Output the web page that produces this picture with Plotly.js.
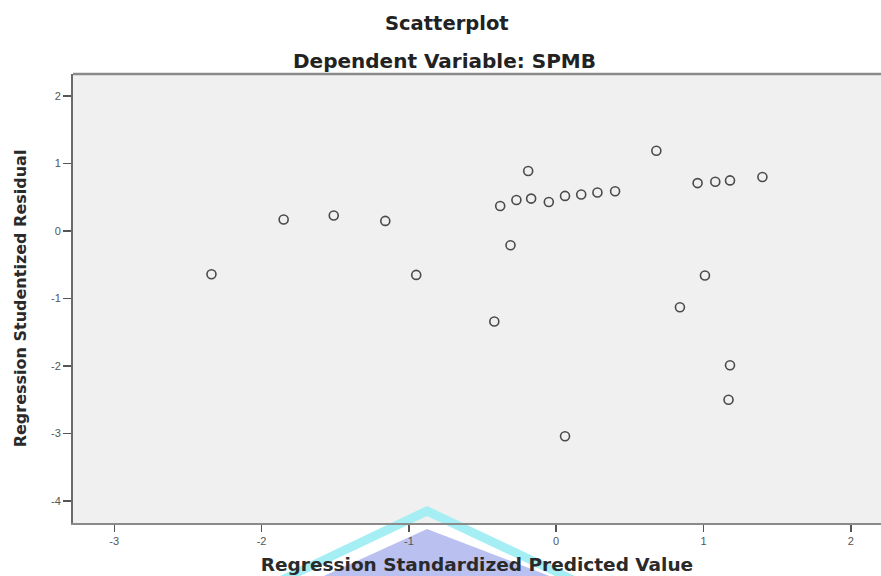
<!DOCTYPE html>
<html>
<head>
<meta charset="utf-8">
<script src="https://cdn.plot.ly/plotly-3.0.1.min.js"></script>
<style>html,body{margin:0;padding:0;background:#fff;}#chart{width:881px;height:576px;}</style>
</head>
<body>
<div id="chart"></div>
<script>
// Regression Standardized Predicted Value
var predicted = [-2.34, -1.85, -1.51, -1.16, -0.95, -0.42, -0.38, -0.31, -0.27, -0.19, -0.17, -0.05, 0.06, 0.06, 0.17, 0.28, 0.40, 0.68, 0.84, 0.96, 1.01, 1.08, 1.18, 1.18, 1.17, 1.40];
// Regression Studentized Residual
var residual  = [-0.64, 0.17, 0.23, 0.15, -0.65, -1.34, 0.37, -0.21, 0.46, 0.89, 0.48, 0.43, 0.52, -3.04, 0.54, 0.57, 0.59, 1.19, -1.13, 0.71, -0.66, 0.73, 0.75, -1.99, -2.50, 0.80];
var xTicks = [-3, -2, -1, 0, 1, 2];
var yTicks = [-4, -3, -2, -1, 0, 1, 2];

var trace = {
  x: predicted, y: residual, type: 'scatter', mode: 'markers',
  marker: {symbol: 'circle-open', size: 9, color: '#4a4a4a', line: {width: 1.6, color: '#4a4a4a'}},
  hoverinfo: 'x+y'
};

var layout = {
  width: 881, height: 576,
  margin: {l: 73, r: 0, t: 74, b: 53, pad: 0},
  paper_bgcolor: '#ffffff', plot_bgcolor: '#f0f0f0',
  showlegend: false,
  font: {family: 'DejaVu Sans, Arial, sans-serif', color: '#222'},
  xaxis: {
    range: [-3.28, 2.205], tickvals: xTicks, ticktext: xTicks.map(String),
    showgrid: false, zeroline: false,
    showline: true, linecolor: '#8a8a8a', linewidth: 2, mirror: false,
    ticks: 'outside', ticklen: 7, tickwidth: 1.5, tickcolor: '#555',
    tickfont: {family: 'Arial, Liberation Sans, sans-serif', size: 11, color: '#555555'},
    title: {text: 'Regression Standardized Predicted Value', standoff: 12,
            font: {family: 'DejaVu Sans, sans-serif', size: 18.5, color: '#2a2a2a', weight: 'bold'}}
  },
  yaxis: {
    range: [-4.326, 2.326], tickvals: yTicks, ticktext: yTicks.map(String),
    showgrid: false, zeroline: false,
    showline: true, linecolor: '#6a6a6a', linewidth: 2, mirror: false,
    ticks: 'outside', ticklen: 8, tickwidth: 1.5, tickcolor: '#555',
    tickfont: {family: 'Arial, Liberation Sans, sans-serif', size: 11, color: '#555555'},
    title: {text: 'Regression Studentized Residual', standoff: 20,
            font: {family: 'DejaVu Sans, sans-serif', size: 16, color: '#2a2a2a', weight: 'bold'}}
  },
  annotations: [
    {text: 'Scatterplot', xref: 'paper', yref: 'paper', x: 0.463, y: 1, yshift: 51, showarrow: false,
     xanchor: 'center', yanchor: 'middle', font: {family: 'DejaVu Sans, sans-serif', size: 19.5, color: '#222', weight: 'bold'}},
    {text: 'Dependent Variable: SPMB', xref: 'paper', yref: 'paper', x: 0.46, y: 1, yshift: 13, showarrow: false,
     xanchor: 'center', yanchor: 'middle', font: {family: 'DejaVu Sans, sans-serif', size: 20, color: '#222', weight: 'bold'}}
  ],
  shapes: [
    {type: 'path', xref: 'paper', yref: 'paper', layer: 'below',
     path: 'M 0.2562 -0.118 L 0.4381 0.0379 L 0.6213 -0.118 L 0.5965 -0.118 L 0.4381 0.0156 L 0.2809 -0.118 Z',
     fillcolor: 'rgb(165,238,244)', line: {width: 0}},
    {type: 'path', xref: 'paper', yref: 'paper', layer: 'below',
     path: 'M 0.2995 -0.127 L 0.4381 -0.0134 L 0.6027 -0.127 Z',
     fillcolor: 'rgb(186,192,240)', line: {width: 0}},
    {type: 'line', xref: 'paper', yref: 'paper', layer: 'above',
     x0: 0, x1: 1, y0: 1, y1: 1, line: {color: '#8a8a8a', width: 2.5}}
  ]
};

Plotly.newPlot('chart', [trace], layout, {displayModeBar: false, staticPlot: true});
</script>
</body>
</html>
